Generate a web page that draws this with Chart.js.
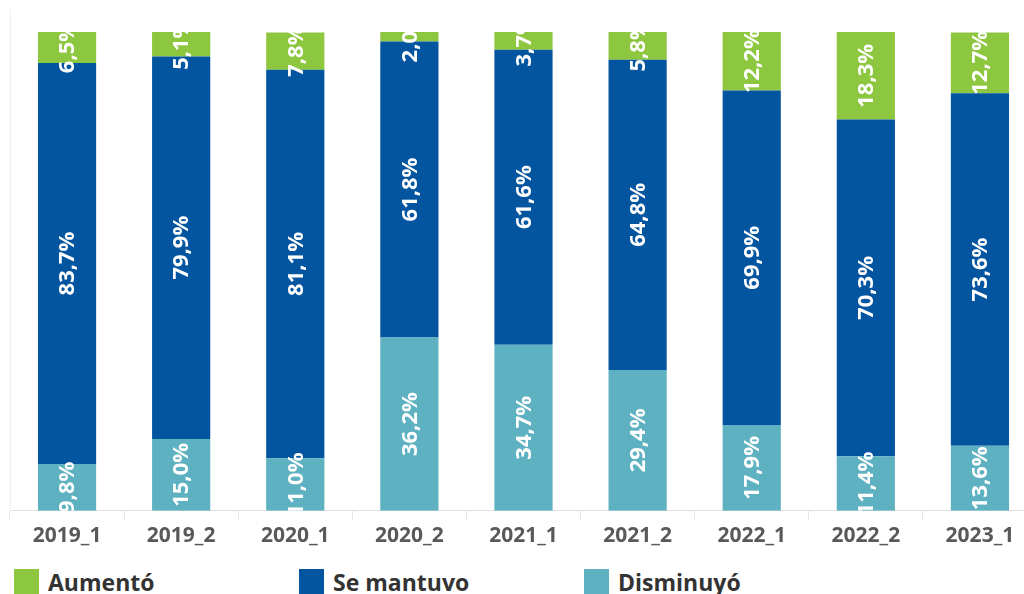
<!DOCTYPE html>
<html>
<head>
<meta charset="utf-8">
<script src="https://cdn.jsdelivr.net/npm/chart.js@4"></script>
<style>
  html, body { margin: 0; padding: 0; background: #fff; overflow: hidden; }
  #wrap { position: relative; width: 1024px; height: 594px; overflow: hidden; }
  #box { position: absolute; left: 0; top: 0; width: 1042px; height: 553px; }
  #legend { position: absolute; left: 14px; top: 569px; display: flex; font-family: "Open Sans", sans-serif; font-weight: bold; font-size: 23px; color: #333; }
  .item { width: 285px; display: flex; align-items: center; height: 25px; }
  .sw { width: 25px; height: 25px; margin-right: 9px; flex: none; }
</style>
</head>
<body>
<div id="wrap">
  <div id="box"><canvas id="chart"></canvas></div>
  <div id="legend"></div>
</div>
<script>
'use strict';

var periods = ['2019_1', '2019_2', '2020_1', '2020_2', '2021_1', '2021_2', '2022_1', '2022_2', '2023_1'];
var aumento = [6.5, 5.1, 7.8, 2.0, 3.7, 5.8, 12.2, 18.3, 12.7];
var seMantuvo = [83.7, 79.9, 81.1, 61.8, 61.6, 64.8, 69.9, 70.3, 73.6];
var disminuyo = [9.8, 15.0, 11.0, 36.2, 34.7, 29.4, 17.9, 11.4, 13.6];

var seriesNames = ['Disminuyó', 'Se mantuvo', 'Aumentó'];
var seriesValues = [disminuyo, seMantuvo, aumento];
var seriesColors = ['#5eb1c0', '#0455a0', '#8dc63f'];

// datasets, bottom of the stack first
var datasets = [];
for (var i = 0; i < seriesNames.length; i++) {
  datasets.push({
    label: seriesNames[i],
    data: seriesValues[i],
    backgroundColor: seriesColors[i],
    borderWidth: 0,
    categoryPercentage: 1,
    barPercentage: 0.51
  });
}

// white rotated labels inside each segment
var barLabels = {
  id: 'barLabels',
  afterDatasetsDraw: function(chart) {
    var ctx = chart.ctx;
    var area = chart.chartArea;
    var top = chart.scales.y.getPixelForValue(100);
    ctx.save();
    ctx.beginPath();
    ctx.rect(area.left, top, area.right - area.left, area.bottom - top);
    ctx.clip();
    ctx.fillStyle = '#fff';
    ctx.font = 'bold 22px "Open Sans"';
    ctx.textAlign = 'center';
    ctx.textBaseline = 'middle';
    chart.data.datasets.forEach(function(ds, di) {
      var meta = chart.getDatasetMeta(di);
      meta.data.forEach(function(bar, j) {
        var txt = ds.data[j].toFixed(1).replace('.', ',') + '%';
        var cy = (bar.y + bar.base) / 2;
        ctx.save();
        ctx.translate(bar.x, cy);
        ctx.rotate(-Math.PI / 2);
        ctx.fillText(txt, 0, 1);
        ctx.restore();
      });
    });
    ctx.restore();
  }
};

var ctx = document.getElementById('chart').getContext('2d');
var chart = new Chart(ctx, {
  type: 'bar',
  data: { labels: periods, datasets: datasets },
  options: {
    responsive: true,
    maintainAspectRatio: false,
    animation: false,
    layout: { padding: { left: 2, right: 5, top: 9, bottom: 0 } },
    plugins: { legend: { display: false }, tooltip: { enabled: false } },
    scales: {
      x: {
        stacked: true,
        grid: { drawOnChartArea: false, color: '#e6e6e6', tickLength: 9 },
        border: { color: '#e0e0e0', dash: [4, 2] },
        ticks: { color: '#595959', padding: 4, font: { family: 'Open Sans', weight: 'bold', size: 21 } }
      },
      y: {
        stacked: true,
        min: 0,
        max: 104.8,
        grid: { display: false },
        border: { color: '#eeeeee' },
        ticks: { display: false }
      }
    }
  },
  plugins: [barLabels]
});

// legend in the order shown on the picture
var legend = document.getElementById('legend');
for (var k = seriesNames.length - 1; k >= 0; k--) {
  var item = document.createElement('div');
  item.className = 'item';
  var sw = document.createElement('span');
  sw.className = 'sw';
  sw.style.background = seriesColors[k];
  var tx = document.createElement('span');
  tx.textContent = seriesNames[k];
  item.appendChild(sw);
  item.appendChild(tx);
  legend.appendChild(item);
}
</script>
</body>
</html>
